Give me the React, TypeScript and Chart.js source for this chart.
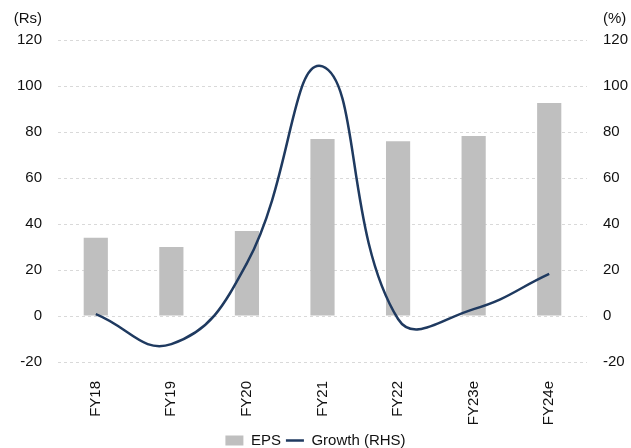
import React, { useEffect, useRef } from "react";
import { Chart, registerables } from "chart.js";

Chart.register(...registerables);

const categories = ["FY18", "FY19", "FY20", "FY21", "FY22", "FY23e", "FY24e"];
const epsValues = [34, 30, 37, 77, 76, 78.3, 92.6];
const growthValues = [0.8, -12.2, 23, 108.5, -1.3, 3, 18.3];
const axisMin = -20;
const axisMax = 120;
const axisStep = 20;
const leftUnit = "(Rs)";
const rightUnit = "(%)";
const legendLabels = ["EPS", "Growth (RHS)"];

const BAR_COLOR = "#BFBFBF";
const LINE_COLOR = "#1F3A60";
const TEXT_COLOR = "#111111";
const FONT = "'Liberation Sans', Arial, sans-serif";
const FONT_SIZE = 15;

const unitPlugin = {
  id: "units",
  afterDraw(chart: any) {
    const { ctx, chartArea } = chart;
    ctx.save();
    ctx.font = `${FONT_SIZE}px ${FONT}`;
    ctx.fillStyle = TEXT_COLOR;
    ctx.textBaseline = "middle";
    ctx.textAlign = "right";
    ctx.fillText(leftUnit, chartArea.left - 16, 19);
    ctx.textAlign = "left";
    ctx.fillText(rightUnit, chartArea.right + 16, 19);
    ctx.restore();
  },
};

export default function App() {
  const ref = useRef<HTMLCanvasElement | null>(null);

  useEffect(() => {
    document.body.style.margin = "0";
    if (!ref.current) return;
    const chart = new Chart(ref.current, {
      type: "bar",
      data: {
        labels: categories,
        datasets: [
          {
            type: "bar",
            label: legendLabels[0],
            data: epsValues,
            backgroundColor: BAR_COLOR,
            yAxisID: "y",
            categoryPercentage: 1,
            barPercentage: 0.32,
            order: 2,
          },
          {
            type: "line",
            label: legendLabels[1],
            data: growthValues,
            borderColor: LINE_COLOR,
            backgroundColor: LINE_COLOR,
            borderWidth: 2.5,
            pointRadius: 0,
            tension: 0.45,
            yAxisID: "y1",
            order: 1,
          } as any,
        ],
      },
      options: {
        animation: false,
        responsive: false,
        maintainAspectRatio: false,
        layout: { padding: { top: 40, left: 0, right: 0, bottom: -10 } },
        plugins: {
          tooltip: { enabled: false },
          legend: {
            position: "bottom",
            labels: {
              color: TEXT_COLOR,
              font: { family: FONT, size: FONT_SIZE },
              usePointStyle: true,
              pointStyleWidth: 18,
              boxHeight: 10,
              padding: 5,
              generateLabels: () => [
                {
                  text: legendLabels[0],
                  fillStyle: BAR_COLOR,
                  strokeStyle: BAR_COLOR,
                  fontColor: TEXT_COLOR,
                  lineWidth: 0,
                  pointStyle: "rect",
                  hidden: false,
                  datasetIndex: 0,
                },
                {
                  text: legendLabels[1],
                  fillStyle: LINE_COLOR,
                  strokeStyle: LINE_COLOR,
                  fontColor: TEXT_COLOR,
                  lineWidth: 2.5,
                  pointStyle: "line",
                  hidden: false,
                  datasetIndex: 1,
                },
              ] as any,
            },
          },
        },
        scales: {
          x: {
            position: "bottom",
            grid: { display: false },
            border: { display: false },
            ticks: {
              color: TEXT_COLOR,
              font: { family: FONT, size: FONT_SIZE },
              minRotation: 90,
              maxRotation: 90,
              padding: 11,
              autoSkip: false,
            },
            afterFit(scale: any) {
              scale.height = 66;
            },
          },
          y: {
            position: "left",
            min: axisMin,
            max: axisMax,
            grid: { color: "#D9D9D9", lineWidth: 1, drawTicks: false },
            border: { display: false, dash: [3, 3] },
            ticks: {
              stepSize: axisStep,
              color: TEXT_COLOR,
              font: { family: FONT, size: FONT_SIZE },
              padding: 16,
            },
            afterFit(scale: any) {
              scale.width = 58;
            },
          },
          y1: {
            position: "right",
            min: axisMin,
            max: axisMax,
            grid: { display: false, drawTicks: false },
            border: { display: false },
            ticks: {
              stepSize: axisStep,
              color: TEXT_COLOR,
              font: { family: FONT, size: FONT_SIZE },
              padding: 16,
            },
            afterFit(scale: any) {
              scale.width = 44;
            },
          },
        },
      },
      plugins: [unitPlugin],
    });
    return () => chart.destroy();
  }, []);

  return (
    <div style={{ width: 631, height: 448, position: "relative" }}>
      <canvas ref={ref} width={631} height={448} style={{ width: 631, height: 448 }} />
    </div>
  );
}
